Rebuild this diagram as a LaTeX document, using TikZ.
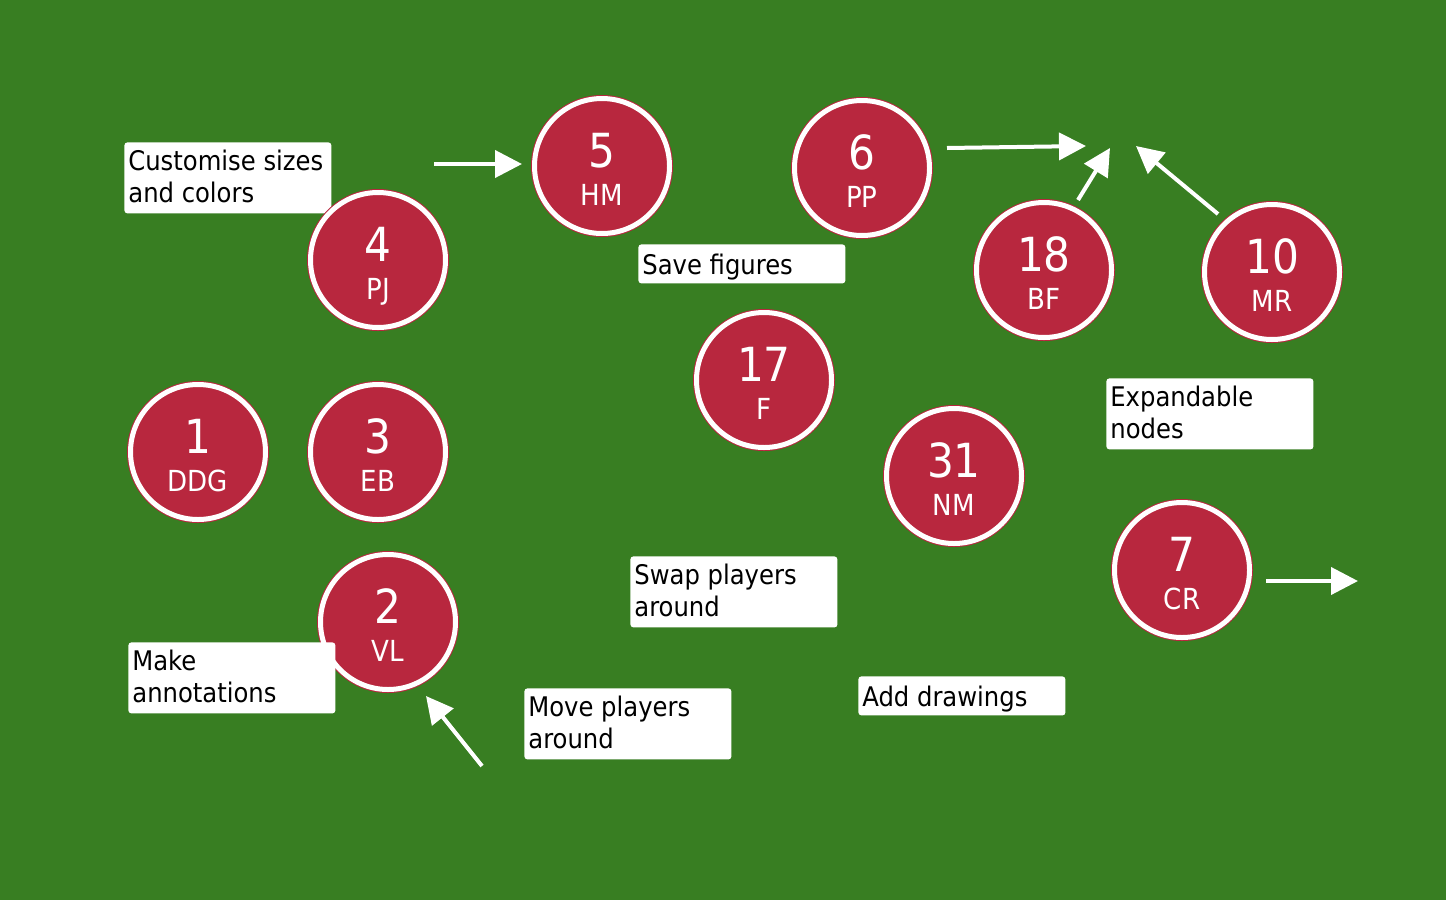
\documentclass[tikz,border=0pt]{standalone}
\usepackage{fontspec}
\setmainfont{DejaVu Sans Condensed}
\usetikzlibrary{arrows.meta,positioning}
\definecolor{pitchgreen}{RGB}{56,126,34}
\definecolor{shirtred}{RGB}{184,39,62}

\begin{document}
\begin{tikzpicture}[
  x=0.5pt,y=-0.5pt,
  player/.style={circle,fill=shirtred,draw=shirtred,line width=0.5pt,
    double=white,double distance=2.5pt,minimum size=67.5pt,inner sep=0pt},
  plnum/.style={anchor=base,text=white,inner sep=0pt,font=\fontsize{23.5}{23.5}\selectfont},
  plname/.style={anchor=base,text=white,inner sep=0pt,font=\fontsize{14.5}{14.5}\selectfont},
  notebox/.style={fill=white,rounded corners=1.5pt,anchor=north west,
    minimum width=103.5pt,inner sep=0pt},
  notetext/.style={anchor=north west,inner xsep=2pt,inner ysep=4pt,align=left,
    font=\fontsize{13.5}{16}\selectfont,execute at begin node={\rule{0pt}{11pt}}},
  warr/.style={-{Triangle[length=13.5pt,width=13.5pt]},line width=2pt,white},
]
% ---- Pitch ----
\fill[pitchgreen] (0,0) rectangle (1446,900);
\useasboundingbox (0,0) rectangle (1446,900);

% ---- Note under player 4 ----
\node[notebox,minimum height=35.5pt] (nCustom) at (124,142) {};
\node[notetext] (tCustom) at (nCustom.north west) {Customise sizes\\and colors};

% ---- Players ----
\foreach \nm/\x/\y/\no/\ab in {p5/602/166/5/HM,p6/862/168/6/PP,p4/378/260/4/PJ,
  p18/1044/270/18/BF,p10/1272/272/10/MR,p17/764/380/17/F,p1/198/452/1/DDG,
  p3/378/452/3/EB,p31/954/476/31/NM,p7/1182/570/7/CR,p2/388/622/2/VL}{
  \node[player] (\nm) at (\x,\y) {};
  \node[plnum] (\nm-no) at ([yshift=-0.5pt]\nm.center) {\no};
  \node[plname] (\nm-ab) at ([yshift=-19.5pt]\nm.center) {\ab};
}

% ---- Notes ----
\foreach \nm/\x/\y/\h/\txt in {nSave/638/244/19.5/{Save figures},
  nExpand/1106/378/35.5/{Expandable\\nodes},
  nSwap/630/556/35.5/{Swap players\\around},
  nMake/128/642/35.5/{Make\\annotations},
  nMove/524/688/35.5/{Move players\\around},
  nDraw/858/676/19.5/{Add drawings}}{
  \node[notebox,minimum height=\h pt] (\nm) at (\x,\y) {};
  \node[notetext] (\nm-t) at (\nm.north west) {\txt};
}

% ---- Arrows ----
\coordinate (r1s) at (434,164);   \coordinate (r1e) at (522,164);
\coordinate (r2s) at (947,148);   \coordinate (r2e) at (1086,146);
\coordinate (r3s) at (1078,200);  \coordinate (r3e) at (1110,148);
\coordinate (r4s) at (1218,214);  \coordinate (r4e) at (1136,146);
\coordinate (r5s) at (482,766);   \coordinate (r5e) at (426,696);
\coordinate (r6s) at (1266,581);  \coordinate (r6e) at (1358,581);
\foreach \i in {1,...,6}{
  \draw[warr] (r\i s) -- (r\i e);
}
\end{tikzpicture}
\end{document}
